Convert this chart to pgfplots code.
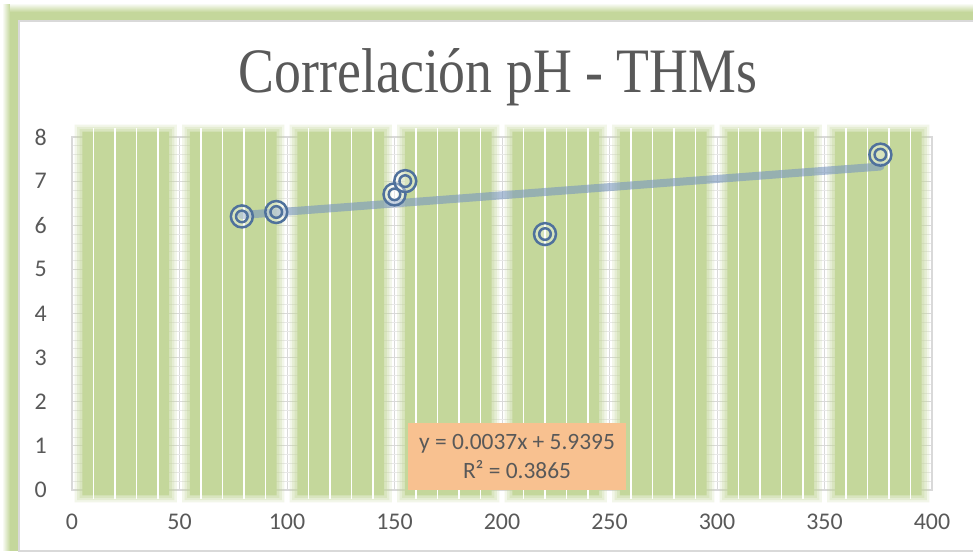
\documentclass[border=0pt]{standalone}
\usepackage{fontspec}
\setmainfont{Carlito}
\newfontfamily\titlefont{Liberation Serif}
\usepackage{graphicx}
\usepackage{pgfplots}
\pgfplotsset{compat=1.18}
\definecolor{bandgreen}{HTML}{C4D79B}
\definecolor{gridmajor}{HTML}{D9D9D9}
\definecolor{gridminor}{HTML}{E8E8E8}
\definecolor{textgray}{HTML}{595959}
\definecolor{markblue}{HTML}{4F719C}
\definecolor{trendblue}{HTML}{7896BE}
\definecolor{eqorange}{HTML}{F8C190}
\begin{document}
\begin{tikzpicture}
\useasboundingbox (0,0) rectangle (973bp,554bp);
\fill[white] (0,0) rectangle (973bp,554bp);
% outer chart frame with soft green edge
\shade[left color=white, right color=bandgreen] (2bp,3bp) rectangle (10bp,549bp);
\fill[bandgreen] (10bp,3bp) rectangle (19bp,534bp);
\shade[bottom color=bandgreen, top color=white] (10bp,542bp) rectangle (980bp,551bp);
\fill[bandgreen] (10bp,533bp) rectangle (980bp,542bp);
\draw[gridmajor, line width=1.2bp] (19bp,3bp) rectangle (990bp,533bp);
% title
\node[anchor=base, text=textgray, inner sep=0pt] at (498bp,461bp)
  {\scalebox{0.85}[1]{\titlefont\fontsize{63.5}{70}\selectfont Correlación pH - THMs}};
\begin{axis}[
  at={(72bp,64bp)}, anchor=south west,
  scale only axis, width=860bp, height=353bp,
  xmin=0, xmax=400, ymin=0, ymax=8,
  xtick={0,50,...,400}, ytick={0,1,...,8},
  minor x tick num=4, minor y tick num=4,
  grid=both,
  major grid style={color=gridmajor, line width=0.9bp},
  minor grid style={color=gridminor, line width=0.7bp},
  axis line style={gridmajor, line width=1.2bp},
  tick style={draw=none},
  clip=false,
  unbounded coords=jump,
  ticklabel style={font=\fontsize{24}{28}\selectfont, text=textgray, inner sep=0pt},
  xticklabel style={anchor=base, yshift=-39.5bp},
  yticklabel style={anchor=east, xshift=-25bp},
  /pgf/number format/assume math mode=true,
]
% soft green bands (fading edges)
\addplot[draw=none, fill=bandgreen, fill opacity=0.22] coordinates {
 (1.2,-0.28) (48.8,-0.28) (48.8,8.28) (1.2,8.28) (nan,nan)
 (51.2,-0.28) (98.8,-0.28) (98.8,8.28) (51.2,8.28) (nan,nan)
 (101.2,-0.28) (148.8,-0.28) (148.8,8.28) (101.2,8.28) (nan,nan)
 (151.2,-0.28) (198.8,-0.28) (198.8,8.28) (151.2,8.28) (nan,nan)
 (201.2,-0.28) (248.8,-0.28) (248.8,8.28) (201.2,8.28) (nan,nan)
 (251.2,-0.28) (298.8,-0.28) (298.8,8.28) (251.2,8.28) (nan,nan)
 (301.2,-0.28) (348.8,-0.28) (348.8,8.28) (301.2,8.28) (nan,nan)
 (351.2,-0.28) (398.8,-0.28) (398.8,8.28) (351.2,8.28)
};
\addplot[draw=none, fill=bandgreen, fill opacity=0.28] coordinates {
 (2.4,-0.23) (47.6,-0.23) (47.6,8.23) (2.4,8.23) (nan,nan)
 (52.4,-0.23) (97.6,-0.23) (97.6,8.23) (52.4,8.23) (nan,nan)
 (102.4,-0.23) (147.6,-0.23) (147.6,8.23) (102.4,8.23) (nan,nan)
 (152.4,-0.23) (197.6,-0.23) (197.6,8.23) (152.4,8.23) (nan,nan)
 (202.4,-0.23) (247.6,-0.23) (247.6,8.23) (202.4,8.23) (nan,nan)
 (252.4,-0.23) (297.6,-0.23) (297.6,8.23) (252.4,8.23) (nan,nan)
 (302.4,-0.23) (347.6,-0.23) (347.6,8.23) (302.4,8.23) (nan,nan)
 (352.4,-0.23) (397.6,-0.23) (397.6,8.23) (352.4,8.23)
};
\addplot[draw=none, fill=bandgreen, fill opacity=0.35] coordinates {
 (3.6,-0.18) (46.4,-0.18) (46.4,8.18) (3.6,8.18) (nan,nan)
 (53.6,-0.18) (96.4,-0.18) (96.4,8.18) (53.6,8.18) (nan,nan)
 (103.6,-0.18) (146.4,-0.18) (146.4,8.18) (103.6,8.18) (nan,nan)
 (153.6,-0.18) (196.4,-0.18) (196.4,8.18) (153.6,8.18) (nan,nan)
 (203.6,-0.18) (246.4,-0.18) (246.4,8.18) (203.6,8.18) (nan,nan)
 (253.6,-0.18) (296.4,-0.18) (296.4,8.18) (253.6,8.18) (nan,nan)
 (303.6,-0.18) (346.4,-0.18) (346.4,8.18) (303.6,8.18) (nan,nan)
 (353.6,-0.18) (396.4,-0.18) (396.4,8.18) (353.6,8.18)
};
\addplot[draw=none, fill=bandgreen] coordinates {
 (4.8,-0.12) (45.2,-0.12) (45.2,8.12) (4.8,8.12) (nan,nan)
 (54.8,-0.12) (95.2,-0.12) (95.2,8.12) (54.8,8.12) (nan,nan)
 (104.8,-0.12) (145.2,-0.12) (145.2,8.12) (104.8,8.12) (nan,nan)
 (154.8,-0.12) (195.2,-0.12) (195.2,8.12) (154.8,8.12) (nan,nan)
 (204.8,-0.12) (245.2,-0.12) (245.2,8.12) (204.8,8.12) (nan,nan)
 (254.8,-0.12) (295.2,-0.12) (295.2,8.12) (254.8,8.12) (nan,nan)
 (304.8,-0.12) (345.2,-0.12) (345.2,8.12) (304.8,8.12) (nan,nan)
 (354.8,-0.12) (395.2,-0.12) (395.2,8.12) (354.8,8.12)
};
% white minor lines across the bands
\addplot[white, line width=1.4bp, no marks] coordinates {
 (10,-0.2) (10,8.2) (nan,nan) (20,-0.2) (20,8.2) (nan,nan) (30,-0.2) (30,8.2) (nan,nan) (40,-0.2) (40,8.2) (nan,nan)
 (60,-0.2) (60,8.2) (nan,nan) (70,-0.2) (70,8.2) (nan,nan) (80,-0.2) (80,8.2) (nan,nan) (90,-0.2) (90,8.2) (nan,nan)
 (110,-0.2) (110,8.2) (nan,nan) (120,-0.2) (120,8.2) (nan,nan) (130,-0.2) (130,8.2) (nan,nan) (140,-0.2) (140,8.2) (nan,nan)
 (160,-0.2) (160,8.2) (nan,nan) (170,-0.2) (170,8.2) (nan,nan) (180,-0.2) (180,8.2) (nan,nan) (190,-0.2) (190,8.2) (nan,nan)
 (210,-0.2) (210,8.2) (nan,nan) (220,-0.2) (220,8.2) (nan,nan) (230,-0.2) (230,8.2) (nan,nan) (240,-0.2) (240,8.2) (nan,nan)
 (260,-0.2) (260,8.2) (nan,nan) (270,-0.2) (270,8.2) (nan,nan) (280,-0.2) (280,8.2) (nan,nan) (290,-0.2) (290,8.2) (nan,nan)
 (310,-0.2) (310,8.2) (nan,nan) (320,-0.2) (320,8.2) (nan,nan) (330,-0.2) (330,8.2) (nan,nan) (340,-0.2) (340,8.2) (nan,nan)
 (360,-0.2) (360,8.2) (nan,nan) (370,-0.2) (370,8.2) (nan,nan) (380,-0.2) (380,8.2) (nan,nan) (390,-0.2) (390,8.2)
};
% linear trendline y = 0.0037x + 5.9395
\addplot[trendblue, opacity=0.6, line width=8bp, line cap=round, no marks] coordinates {
 (79,6.2318) (376,7.3307)
};
% data points
\addplot[only marks, mark=*, mark size=11bp,
  mark options={draw=markblue, line width=2.5bp, fill=white, fill opacity=0.35}] coordinates {
 (79,6.2) (95,6.3) (150,6.7) (155,7.0) (220,5.8) (376,7.6)
};
\addplot[only marks, mark=o, mark size=5.8bp,
  mark options={draw=markblue, line width=2.5bp}] coordinates {
 (79,6.2) (95,6.3) (150,6.7) (155,7.0) (220,5.8) (376,7.6)
};
\node[fill=eqorange, minimum width=218bp, minimum height=67bp, anchor=south,
  align=center, inner sep=0pt, text=textgray, font=\fontsize{23.5}{29.5}\selectfont]
  at (axis cs:207,0) {y = 0.0037x + 5.9395\\R² = 0.3865};
\end{axis}
\end{tikzpicture}
\end{document}
